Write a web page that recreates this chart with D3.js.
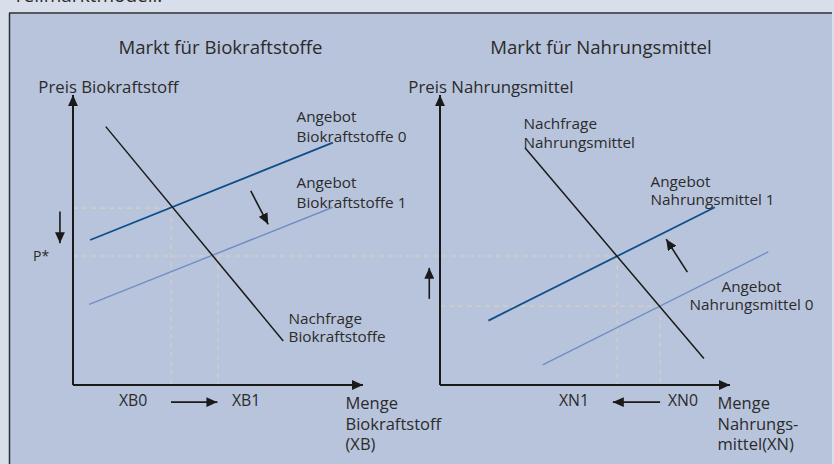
<!DOCTYPE html>
<html>
<head>
<meta charset="utf-8">
<script src="https://cdn.jsdelivr.net/npm/d3@7"></script>
<style>
  html, body { margin: 0; padding: 0; background: #d9dfea; }
  svg { display: block; }
  text { font-family: "Open Sans", "Noto Sans", sans-serif; fill: #2b2b2b; }
</style>
</head>
<body>
<div id="chart"></div>
<script>
// ====================== 데이터 (chart units 0..100) ======================
// left market: Biokraftstoffe
const bioDemand = [[11.3, 89.1], [72.5, 15.2]];
const bioSupply0 = [[5.9, 50.0], [89.6, 83.6]];
const bioSupply1 = [[5.6, 27.8], [89.6, 61.3]];
const bioGuides = { xb0: 33.8, xb1: 50.0, p0: 61.0, pStar: 44.5 };

// right market: Nahrungsmittel
const foodDemand = [[29.3, 81.8], [91.0, 9.1]];
const foodSupply1 = [[16.7, 22.2], [94.8, 61.3]];
const foodSupply0 = [[35.4, 6.9], [113.2, 45.9]];
const foodGuides = { xn1: 61.1, xn0: 76.0, p0: 27.2 };

// shift arrows [from, to]
const bioPriceShift = [[-4.5, 59.8], [-4.5, 48.9]];
const bioSupplyShift = [[61.3, 66.9], [67.3, 55.4]];
const bioQtyShift = [[33.8, -5.9], [49.8, -5.9]];
const foodPriceShift = [[-3.7, 29.7], [-3.7, 40.4]];
const foodSupplyShift = [[85.3, 38.9], [78.0, 50.3]];
const foodQtyShift = [[75.9, -5.9], [59.6, -5.9]];

const titles = ["Markt für Biokraftstoffe", "Markt für Nahrungsmittel"];
const yLabels = ["Preis Biokraftstoff", "Preis Nahrungsmittel"];

// ====================== 기본 설정 ======================
const width = 834, height = 464;
const svg = d3.select("#chart").append("svg")
  .attr("width", width).attr("height", height);

// half-cut caption above the box
svg.append("text").attr("x", 13).attr("y", 2)
  .style("font-size", "19px").text("Teilmarktmodell.");

// panel
svg.append("rect").attr("x", 10).attr("y", 13).attr("width", 822).attr("height", 460)
  .attr("fill", "#b8c4dc");
svg.append("line").attr("x1", 9).attr("x2", 832).attr("y1", 13).attr("y2", 13)
  .attr("stroke", "#55595f").attr("stroke-width", 2);
svg.append("line").attr("x1", 9.5).attr("x2", 9.5).attr("y1", 13).attr("y2", 464)
  .attr("stroke", "#2b2f3a").attr("stroke-width", 1.5);

const defs = svg.append("defs");
defs.append("marker").attr("id", "head")
  .attr("markerUnits", "userSpaceOnUse")
  .attr("viewBox", "0 0 10 9").attr("refX", 10).attr("refY", 4.5)
  .attr("markerWidth", 11).attr("markerHeight", 10).attr("orient", "auto")
  .append("path").attr("d", "M0,0L10,4.5L0,9Z").attr("fill", "#1a1a1a");

// scales
const yS = d3.scaleLinear().domain([0, 100]).range([385, 95]);
const xL = d3.scaleLinear().domain([0, 100]).range([73, 363]);
const xR = d3.scaleLinear().domain([0, 100]).range([440, 730]);

const line = (x) => d3.line().x(d => x(d[0])).y(d => yS(d[1]));

const DASH = { stroke: "#d5cfbf", width: 1.1, dash: "5,4" };
const LABEL = 15.3, AXIS = 16.5, TICK = 15.8;

function seg(g, x, pts, color, w, dash, marker) {
  const p = g.append("path").attr("d", line(x)(pts))
    .attr("fill", "none").attr("stroke", color).attr("stroke-width", w);
  if (dash) p.attr("stroke-dasharray", dash);
  if (marker) p.attr("marker-end", "url(#head)");
  return p;
}

function multiText(g, x, y, lines, size, lh) {
  const t = g.append("text").attr("x", x).attr("y", y).style("font-size", size + "px");
  lines.forEach((s, i) => {
    t.append("tspan").attr("x", x).attr("dy", i === 0 ? 0 : lh).text(s);
  });
}

function drawAxes(g, x, title, yLabel, cx, lx) {
  g.append("text").attr("x", cx).attr("y", 54).attr("text-anchor", "middle")
    .style("font-size", "18.6px").text(title);
  seg(g, x, [[0, 0], [0, 100]], "#1a1a1a", 2, null, true);
  seg(g, x, [[0, 0], [100, 0]], "#1a1a1a", 2, null, true);
  g.append("text").attr("x", lx).attr("y", 93)
    .style("font-size", "16.8px").text(yLabel);
}

// ====================== 왼쪽: Biokraftstoffe ======================
const gL = svg.append("g");
// guides
seg(gL, xL, [[0, bioGuides.p0], [bioGuides.xb0, bioGuides.p0]], DASH.stroke, DASH.width, DASH.dash);
seg(gL, xL, [[bioGuides.xb0, bioGuides.p0], [bioGuides.xb0, 0]], DASH.stroke, DASH.width, DASH.dash);
seg(gL, xL, [[bioGuides.xb1, bioGuides.pStar], [bioGuides.xb1, 0]], DASH.stroke, DASH.width, DASH.dash);
// P* line runs across into the food market up to XN1
gL.append("line")
  .attr("x1", xL(0)).attr("x2", xR(foodGuides.xn1))
  .attr("y1", yS(bioGuides.pStar)).attr("y2", yS(bioGuides.pStar))
  .attr("stroke", DASH.stroke).attr("stroke-width", DASH.width).attr("stroke-dasharray", DASH.dash);

drawAxes(gL, xL, titles[0], yLabels[0], 220.5, 38.3);

seg(gL, xL, bioSupply1, "#6f8fc4", 1.4);
seg(gL, xL, bioSupply0, "#0d4f8b", 1.8);
seg(gL, xL, bioDemand, "#1a1a1a", 1.5);

seg(gL, xL, bioPriceShift, "#1a1a1a", 1.6, null, true);
seg(gL, xL, bioSupplyShift, "#1a1a1a", 1.6, null, true);
seg(gL, xL, bioQtyShift, "#1a1a1a", 1.6, null, true);

multiText(gL, 296.5, 121.5, ["Angebot", "Biokraftstoffe 0"], LABEL, 20);
multiText(gL, 296.5, 187.5, ["Angebot", "Biokraftstoffe 1"], LABEL, 20);
multiText(gL, 288.5, 323.5, ["Nachfrage", "Biokraftstoffe"], LABEL, 18.2);
gL.append("text").attr("x", 33).attr("y", 260.5).style("font-size", "14px").text("P*");
gL.append("text").attr("x", 119).attr("y", 406).style("font-size", TICK + "px").text("XB0");
gL.append("text").attr("x", 232).attr("y", 406).style("font-size", TICK + "px").text("XB1");
multiText(gL, 345.5, 409, ["Menge", "Biokraftstoff", "(XB)"], AXIS, 20.6);

// ====================== 오른쪽: Nahrungsmittel ======================
const gR = svg.append("g");
seg(gR, xR, [[0, foodGuides.p0], [foodGuides.xn0, foodGuides.p0]], DASH.stroke, DASH.width, DASH.dash);
seg(gR, xR, [[foodGuides.xn0, foodGuides.p0], [foodGuides.xn0, 0]], DASH.stroke, DASH.width, DASH.dash);
seg(gR, xR, [[foodGuides.xn1, bioGuides.pStar], [foodGuides.xn1, 0]], DASH.stroke, DASH.width, DASH.dash);

drawAxes(gR, xR, titles[1], yLabels[1], 601, 408.3);

seg(gR, xR, foodSupply0, "#6f8fc4", 1.4);
seg(gR, xR, foodSupply1, "#0d4f8b", 1.8);
seg(gR, xR, foodDemand, "#1a1a1a", 1.5);

seg(gR, xR, foodPriceShift, "#1a1a1a", 1.6, null, true);
seg(gR, xR, foodSupplyShift, "#1a1a1a", 1.6, null, true);
seg(gR, xR, foodQtyShift, "#1a1a1a", 1.6, null, true);

multiText(gR, 523.5, 128.5, ["Nachfrage", "Nahrungsmittel"], LABEL, 19);
multiText(gR, 650.5, 186.5, ["Angebot", "Nahrungsmittel 1"], LABEL, 18.5);
gR.append("text").attr("x", 721.5).attr("y", 291.5).style("font-size", LABEL + "px").text("Angebot");
gR.append("text").attr("x", 689.5).attr("y", 310).style("font-size", LABEL + "px").text("Nahrungsmittel 0");
gR.append("text").attr("x", 559).attr("y", 406).style("font-size", TICK + "px").text("XN1");
gR.append("text").attr("x", 668).attr("y", 406).style("font-size", TICK + "px").text("XN0");
multiText(gR, 717.5, 409, ["Menge", "Nahrungs-", "mittel(XN)"], AXIS, 20.6);
</script>
</body>
</html>
